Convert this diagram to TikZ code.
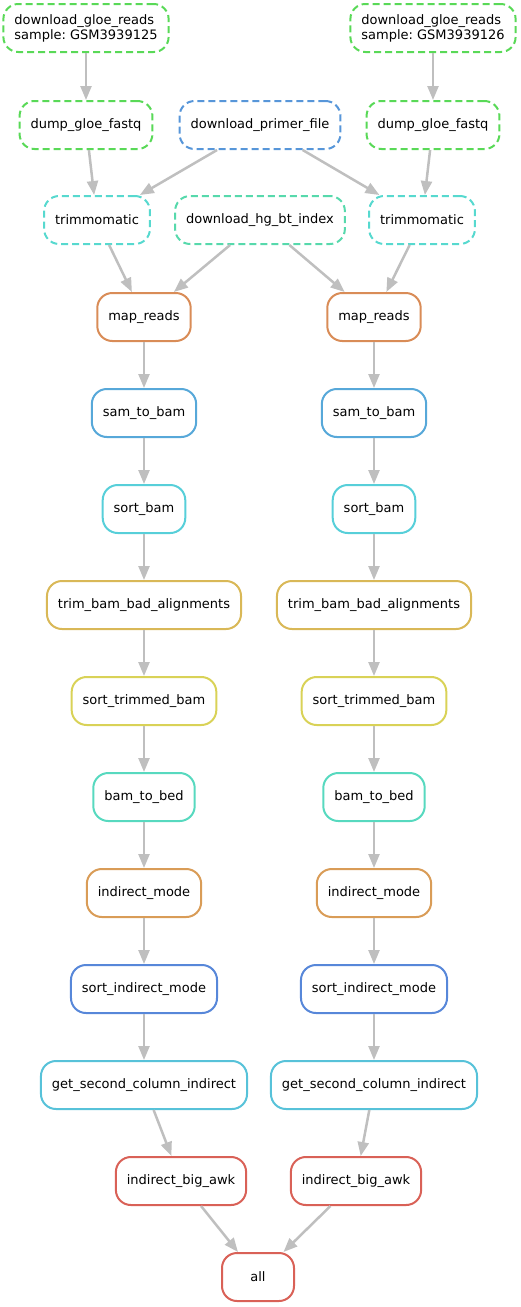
\documentclass[tikz,border=0pt]{standalone}
\usepackage{fontspec}
\setmainfont{DejaVu Sans}
\frenchspacing
\usetikzlibrary{arrows.meta}

\definecolor{cgreen}{RGB}{89,217,87}
\definecolor{cprimer}{RGB}{87,150,217}
\definecolor{ctrim}{RGB}{87,217,207}
\definecolor{chg}{RGB}{87,217,172}
\definecolor{cmap}{RGB}{217,140,87}
\definecolor{csam}{RGB}{87,168,217}
\definecolor{csort}{RGB}{87,207,217}
\definecolor{cbad}{RGB}{217,184,87}
\definecolor{cstrim}{RGB}{217,210,87}
\definecolor{cbed}{RGB}{87,217,191}
\definecolor{cind}{RGB}{217,156,87}
\definecolor{csind}{RGB}{87,135,217}
\definecolor{csec}{RGB}{87,194,217}
\definecolor{cawk}{RGB}{217,97,87}

\begin{document}
\begin{tikzpicture}[
  x=1pt, y=-1pt,
  font=\fontsize{13}{15}\selectfont,
  job/.style={rectangle, rounded corners=15pt, draw=#1, line width=2pt,
              fill=white, minimum height=48pt, minimum width=72pt,
              inner xsep=11pt, align=left},
  input/.style={job=#1, dash pattern=on 7pt off 4pt},
  dep/.style={-{Triangle[length=14pt,width=11pt]}, draw=black!25, line width=2.5pt}
]
\useasboundingbox (0,0) rectangle (520,1307);

% Inputs
\node[input=cgreen] (dl1) at (86,28)  {download\_gloe\_reads\\sample: GSM3939125};
\node[input=cgreen] (dl2) at (433,28) {download\_gloe\_reads\\sample: GSM3939126};
\node[input=cgreen]  (dump1)  at (86,125)  {dump\_gloe\_fastq};
\node[input=cprimer] (primer) at (260,125) {download\_primer\_file};
\node[input=cgreen]  (dump2)  at (433,125) {dump\_gloe\_fastq};
\node[input=ctrim] (trim1) at (97,220)  {trimmomatic};
\node[input=chg]   (hg)    at (260,220) {download\_hg\_bt\_index};
\node[input=ctrim] (trim2) at (422,220) {trimmomatic};

% Per-sample chains
\node[job=cmap]   (map1)  at (144,317)  {map\_reads};
\node[job=cmap]   (map2)  at (374,317)  {map\_reads};
\node[job=csam]   (sam1)  at (144,413)  {sam\_to\_bam};
\node[job=csam]   (sam2)  at (374,413)  {sam\_to\_bam};
\node[job=csort]  (sort1) at (144,509)  {sort\_bam};
\node[job=csort]  (sort2) at (374,509)  {sort\_bam};
\node[job=cbad]   (bad1)  at (144,605)  {trim\_bam\_bad\_alignments};
\node[job=cbad]   (bad2)  at (374,605)  {trim\_bam\_bad\_alignments};
\node[job=cstrim] (st1)   at (144,701)  {sort\_trimmed\_bam};
\node[job=cstrim] (st2)   at (374,701)  {sort\_trimmed\_bam};
\node[job=cbed]   (bed1)  at (144,797)  {bam\_to\_bed};
\node[job=cbed]   (bed2)  at (374,797)  {bam\_to\_bed};
\node[job=cind]   (ind1)  at (144,893)  {indirect\_mode};
\node[job=cind]   (ind2)  at (374,893)  {indirect\_mode};
\node[job=csind]  (sind1) at (144,989)  {sort\_indirect\_mode};
\node[job=csind]  (sind2) at (374,989)  {sort\_indirect\_mode};
\node[job=csec]   (sec1)  at (144,1085) {get\_second\_column\_indirect};
\node[job=csec]   (sec2)  at (374,1085) {get\_second\_column\_indirect};
\node[job=cawk]   (awk1)  at (181,1181) {indirect\_big\_awk};
\node[job=cawk]   (awk2)  at (356,1181) {indirect\_big\_awk};

% Target
\node[job=cawk] (all) at (258,1277) {all};

% Edges
\draw[dep] (dl1)--(dump1);
\draw[dep] (dl2)--(dump2);
\draw[dep] (dump1)--(trim1);
\draw[dep] (dump2)--(trim2);
\draw[dep] (primer)--(trim1);
\draw[dep] (primer)--(trim2);
\draw[dep] (trim1)--(map1);
\draw[dep] (trim2)--(map2);
\draw[dep] (hg)--(map1);
\draw[dep] (hg)--(map2);
\foreach \i in {1,2} {
  \draw[dep] (map\i)--(sam\i);
  \draw[dep] (sam\i)--(sort\i);
  \draw[dep] (sort\i)--(bad\i);
  \draw[dep] (bad\i)--(st\i);
  \draw[dep] (st\i)--(bed\i);
  \draw[dep] (bed\i)--(ind\i);
  \draw[dep] (ind\i)--(sind\i);
  \draw[dep] (sind\i)--(sec\i);
  \draw[dep] (sec\i)--(awk\i);
  \draw[dep] (awk\i)--(all);
}

\end{tikzpicture}
\end{document}
